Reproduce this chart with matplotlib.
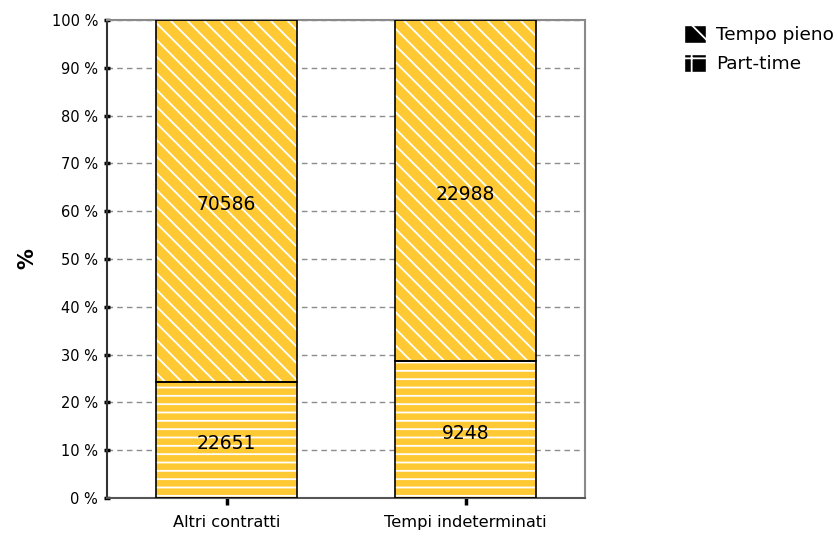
import matplotlib
matplotlib.use("Agg")
import matplotlib.pyplot as plt
from matplotlib.patches import Patch
import numpy as np

categories = ["Altri contratti", "Tempi indeterminati"]
part_time = [22651, 9248]
tempo_pieno = [70586, 22988]
series_labels = ["Tempo pieno", "Part-time"]
yticks = [0, 10, 20, 30, 40, 50, 60, 70, 80, 90, 100]
ytick_labels = [f"{v} %" for v in yticks]

gold = "#FFC933"
plt.rcParams["font.family"] = ["DejaVu Sans"]
plt.rcParams["hatch.linewidth"] = 1.3

fig = plt.figure(figsize=(8.38, 5.36), dpi=100)
ax = fig.add_axes([107 / 838, 1 - 498 / 536, (585 - 107) / 838, (498 - 20) / 536])

pt = np.array(part_time, dtype=float)
tp = np.array(tempo_pieno, dtype=float)
tot = pt + tp
pt_pct = pt / tot * 100
tp_pct = tp / tot * 100
x = np.arange(len(categories))
w = 0.59

ax.set_axisbelow(True)
ax.yaxis.grid(True, linestyle=(0, (4, 3)), color="#8c8c8c", linewidth=1)

# hatched fills (white hatch)
ax.bar(x, pt_pct, w, color=gold, edgecolor="white", hatch="--", linewidth=0, zorder=2)
ax.bar(x, tp_pct, w, bottom=pt_pct, color=gold, edgecolor="white", hatch="\\\\", linewidth=0, zorder=2)
# outlines
ax.bar(x, pt_pct, w, facecolor="none", edgecolor="black", linewidth=1.2, zorder=3)
ax.bar(x, tp_pct, w, bottom=pt_pct, facecolor="none", edgecolor="black", linewidth=1.2, zorder=3)

for i in range(len(categories)):
    ax.text(x[i], pt_pct[i] / 2 - 0.8, f"{part_time[i]}", ha="center", va="center", fontsize=13.5, zorder=4)
    ax.text(x[i], pt_pct[i] + tp_pct[i] / 2 - 0.8, f"{tempo_pieno[i]}", ha="center", va="center", fontsize=13.5, zorder=4)

ax.set_xlim(-0.5, 1.5)
ax.set_ylim(0, 100)
ax.set_yticks(yticks)
ax.set_yticklabels(ytick_labels, fontsize=10.5)
ax.set_xticks(x)
ax.set_xticklabels(categories, fontsize=11.7)
ax.tick_params(axis="y", length=5, width=2.5, direction="inout", pad=4)
ax.tick_params(axis="x", length=5, width=2.5, direction="out", pad=7)

for s in ["top", "right"]:
    ax.spines[s].set_color("#8a8a8a")
    ax.spines[s].set_linewidth(1.5)
ax.spines["left"].set_color("#333333")
ax.spines["left"].set_linewidth(1.5)
ax.spines["bottom"].set_color("#555555")
ax.spines["bottom"].set_linewidth(1.5)

ax.set_ylabel("%", fontsize=15, fontweight="bold", labelpad=10)

handles = [
    Patch(facecolor="black", edgecolor="white", hatch="\\", label=series_labels[0]),
    Patch(facecolor="black", edgecolor="white", hatch="+", label=series_labels[1]),
]
fig.legend(handles=handles, loc="upper left", bbox_to_anchor=(684 / 838, 1 - 25 / 536),
           frameon=False, fontsize=13.3, handlelength=1.2, handleheight=1.1,
           handletextpad=0.55, labelspacing=0.55, borderpad=0, borderaxespad=0)

fig.savefig("out.png", dpi=100)
